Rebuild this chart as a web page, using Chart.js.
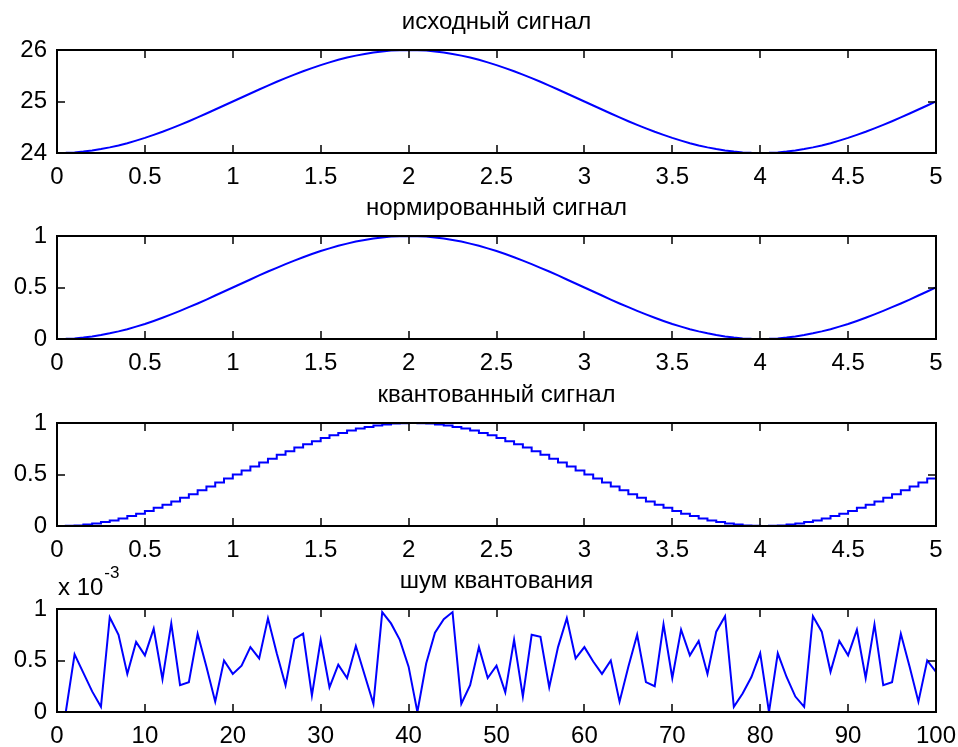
<!DOCTYPE html>
<html>
<head>
<meta charset="utf-8">
<script src="https://cdn.jsdelivr.net/npm/chart.js@4.4.1/dist/chart.umd.min.js"></script>
<style>
  body { margin: 0; background: #fff; width: 958px; height: 747px; position: relative; overflow: hidden; }
  canvas { position: absolute; left: 0; }
</style>
</head>
<body>
<canvas id="c1" width="958" height="193" style="top:0px"></canvas>
<canvas id="c2" width="958" height="193" style="top:186px"></canvas>
<canvas id="c3" width="958" height="193" style="top:373px"></canvas>
<canvas id="c4" width="958" height="193" style="top:559px"></canvas>
<script>
// time step of the sampled signal, s
const dt = 0.05;

const titles = ['исходный сигнал', 'нормированный сигнал', 'квантованный сигнал', 'шум квантования'];

const signal = [
  24, 24.003, 24.012, 24.028, 24.049, 24.076, 24.109, 24.147, 24.191, 24.240,
  24.293, 24.351, 24.412, 24.478, 24.546, 24.617, 24.691, 24.767, 24.844, 24.922,
  25, 25.078, 25.156, 25.233, 25.309, 25.383, 25.454, 25.522, 25.588, 25.649,
  25.707, 25.760, 25.809, 25.853, 25.891, 25.924, 25.951, 25.972, 25.988, 25.997,
  26, 25.997, 25.988, 25.972, 25.951, 25.924, 25.891, 25.853, 25.809, 25.760,
  25.707, 25.649, 25.588, 25.522, 25.454, 25.383, 25.309, 25.233, 25.156, 25.078,
  25, 24.922, 24.844, 24.767, 24.691, 24.617, 24.546, 24.478, 24.412, 24.351,
  24.293, 24.240, 24.191, 24.147, 24.109, 24.076, 24.049, 24.028, 24.012, 24.003,
  24, 24.003, 24.012, 24.028, 24.049, 24.076, 24.109, 24.147, 24.191, 24.240,
  24.293, 24.351, 24.412, 24.478, 24.546, 24.617, 24.691, 24.767, 24.844, 24.922,
  25
];

const normalized = [
  0, 0.002, 0.006, 0.014, 0.024, 0.038, 0.055, 0.074, 0.095, 0.120,
  0.146, 0.175, 0.206, 0.239, 0.273, 0.309, 0.345, 0.383, 0.422, 0.461,
  0.5, 0.539, 0.578, 0.617, 0.655, 0.691, 0.727, 0.761, 0.794, 0.825,
  0.854, 0.880, 0.905, 0.926, 0.946, 0.962, 0.976, 0.986, 0.994, 0.998,
  1, 0.998, 0.994, 0.986, 0.976, 0.962, 0.946, 0.926, 0.905, 0.880,
  0.854, 0.825, 0.794, 0.761, 0.727, 0.691, 0.655, 0.617, 0.578, 0.539,
  0.5, 0.461, 0.422, 0.383, 0.345, 0.309, 0.273, 0.239, 0.206, 0.175,
  0.146, 0.120, 0.095, 0.074, 0.055, 0.038, 0.024, 0.014, 0.006, 0.002,
  0, 0.002, 0.006, 0.014, 0.024, 0.038, 0.055, 0.074, 0.095, 0.120,
  0.146, 0.175, 0.206, 0.239, 0.273, 0.309, 0.345, 0.383, 0.422, 0.461,
  0.5
];

const quantized = [
  0, 0.002, 0.006, 0.014, 0.024, 0.038, 0.054, 0.074, 0.096, 0.120,
  0.146, 0.176, 0.206, 0.238, 0.274, 0.308, 0.346, 0.384, 0.422, 0.460,
  0.5, 0.540, 0.578, 0.616, 0.654, 0.692, 0.726, 0.762, 0.794, 0.824,
  0.854, 0.880, 0.904, 0.926, 0.946, 0.962, 0.976, 0.986, 0.994, 0.998,
  1, 0.998, 0.994, 0.986, 0.976, 0.962, 0.946, 0.926, 0.904, 0.880,
  0.854, 0.824, 0.794, 0.762, 0.726, 0.692, 0.654, 0.616, 0.578, 0.540,
  0.5, 0.460, 0.422, 0.384, 0.346, 0.308, 0.274, 0.238, 0.206, 0.176,
  0.146, 0.120, 0.096, 0.074, 0.054, 0.038, 0.024, 0.014, 0.006, 0.002,
  0, 0.002, 0.006, 0.014, 0.024, 0.038, 0.054, 0.074, 0.096, 0.120,
  0.146, 0.176, 0.206, 0.238, 0.274, 0.308, 0.346, 0.384, 0.422, 0.460,
  0.5
];

// quantization noise, units of 1e-3, samples 1..100
const noise = [
  0, 0.56, 0.38, 0.20, 0.05, 0.92, 0.75, 0.37, 0.68, 0.55,
  0.81, 0.32, 0.86, 0.26, 0.29, 0.76, 0.44, 0.10, 0.50, 0.37,
  0.45, 0.63, 0.52, 0.91, 0.57, 0.26, 0.71, 0.76, 0.16, 0.70,
  0.24, 0.46, 0.33, 0.64, 0.36, 0.08, 0.97, 0.86, 0.70, 0.44,
  0, 0.47, 0.77, 0.90, 0.97, 0.08, 0.26, 0.63, 0.33, 0.45,
  0.19, 0.70, 0.15, 0.75, 0.73, 0.24, 0.63, 0.91, 0.52, 0.63,
  0.49, 0.37, 0.50, 0.10, 0.44, 0.75, 0.29, 0.25, 0.85, 0.33,
  0.80, 0.55, 0.69, 0.37, 0.78, 0.93, 0.05, 0.18, 0.34, 0.57,
  0, 0.57, 0.34, 0.15, 0.05, 0.93, 0.78, 0.39, 0.69, 0.55,
  0.80, 0.33, 0.85, 0.26, 0.29, 0.76, 0.44, 0.10, 0.50, 0.39
];

const FONT = '"Liberation Sans", Arial, sans-serif';
Chart.defaults.font.family = FONT;
Chart.defaults.font.size = 24;
Chart.defaults.color = '#000';

// plain number labels like 0.5, 1, 1.5 (no trailing zeros)
const fmt = v => String(Number(v.toFixed(3)));

// box, inward ticks on all sides, title and the exponent label
const framePlugin = {
  id: 'frame',
  afterDatasetsDraw(chart, args, opts) {
    const { ctx, chartArea: a } = chart;
    const x = chart.scales.x, y = chart.scales.y;
    ctx.save();
    ctx.strokeStyle = '#000';
    ctx.lineWidth = 1.5;
    ctx.beginPath();
    x.ticks.forEach(t => {
      const px = Math.round(x.getPixelForValue(t.value));
      ctx.moveTo(px, a.bottom); ctx.lineTo(px, a.bottom - 8);
      ctx.moveTo(px, a.top); ctx.lineTo(px, a.top + 8);
    });
    y.ticks.forEach(t => {
      const py = Math.round(y.getPixelForValue(t.value));
      ctx.moveTo(a.left, py); ctx.lineTo(a.left + 8, py);
      ctx.moveTo(a.right, py); ctx.lineTo(a.right - 8, py);
    });
    ctx.stroke();
    ctx.lineWidth = 2;
    ctx.strokeRect(a.left, a.top, a.right - a.left, a.bottom - a.top);

    ctx.fillStyle = '#000';
    ctx.font = '24px ' + FONT;
    ctx.textAlign = 'center';
    ctx.textBaseline = 'alphabetic';
    ctx.fillText(opts.title, (a.left + a.right) / 2, a.top - 21);
    if (opts.exponent) {
      ctx.textAlign = 'left';
      const base = 'x 10';
      ctx.fillText(base, a.left + 1, a.top - 14);
      const w = ctx.measureText(base).width;
      ctx.font = '17px ' + FONT;
      ctx.fillText(opts.exponent, a.left + 1 + w + 1, a.top - 31);
    }
    ctx.restore();
  }
};

function points(values, x0, step) {
  return values.map((v, i) => ({ x: x0 + i * step, y: v }));
}

function makeChart(id, data, xMax, xStep, yMin, yMax, yStep, title, extra) {
  extra = extra || {};
  return new Chart(document.getElementById(id), {
    type: 'line',
    data: {
      datasets: [{
        data: data,
        borderColor: '#0000ff',
        borderWidth: 2,
        pointRadius: 0,
        tension: 0,
        stepped: extra.stepped || false,
      }],
    },
    options: {
      responsive: false,
      animation: false,
      events: [],
      layout: { padding: { top: 50, right: 22, left: 0, bottom: 0 } },
      plugins: {
        legend: { display: false },
        tooltip: { enabled: false },
        frame: { title: title, exponent: extra.exponent },
      },
      scales: {
        x: {
          type: 'linear',
          min: 0,
          max: xMax,
          grid: { display: false, drawTicks: false },
          border: { display: false },
          ticks: { stepSize: xStep, padding: 10, maxRotation: 0, autoSkip: false, callback: fmt },
          afterFit: s => { s.height = 40; s.paddingLeft = 0; s.paddingRight = 0; },
        },
        y: {
          min: yMin,
          max: yMax,
          grid: { display: false, drawTicks: false },
          border: { display: false },
          ticks: { stepSize: yStep, padding: 10, callback: fmt },
          afterFit: s => { s.width = 57; s.paddingTop = 0; s.paddingBottom = 0; },
        },
      },
    },
    plugins: [framePlugin],
  });
}

makeChart('c1', points(signal, 0, dt), 5, 0.5, 24, 26, 1, titles[0]);
makeChart('c2', points(normalized, 0, dt), 5, 0.5, 0, 1, 0.5, titles[1]);
makeChart('c3', points(quantized, 0, dt), 5, 0.5, 0, 1, 0.5, titles[2], { stepped: true });
makeChart('c4', points(noise, 1, 1), 100, 10, 0, 1, 0.5, titles[3], { exponent: '-3' });
</script>
</body>
</html>
